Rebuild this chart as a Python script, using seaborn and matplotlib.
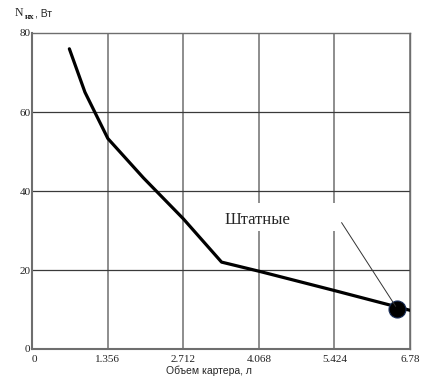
import matplotlib
matplotlib.use('Agg')
import matplotlib.pyplot as plt
import numpy as np
import pandas as pd
import seaborn as sns
from matplotlib.patches import Rectangle

# values
volume = [0.67, 0.95, 1.36, 2.0, 2.712, 3.4, 4.068, 5.424, 6.78]
power = [76.0, 65.0, 53.3, 43.3, 33.0, 22.0, 19.7, 14.8, 9.8]
std_volume = [6.55]
std_power = [10.2]
x_ticks = [0, 1.356, 2.712, 4.068, 5.424, 6.78]
y_ticks = [0, 20, 40, 60, 80]
x_label = 'Объем картера, л'
note = 'Штатные'

sns.set_style('white')
plt.rcParams['font.family'] = ['Liberation Serif', 'DejaVu Serif']

fig = plt.figure(figsize=(4.34, 3.82), dpi=100)
ax = fig.add_axes([32 / 434, 1 - 349 / 382, 378 / 434, 316 / 382])

df = pd.DataFrame({'v': volume, 'p': power})
sns.lineplot(data=df, x='v', y='p', ax=ax, color='black', lw=2.3,
             sort=False, zorder=3)
sns.scatterplot(x=std_volume, y=std_power, ax=ax, color='black', s=150,
                edgecolor='#1a2f5a', linewidth=0.8, zorder=4)

ax.set_xlim(0, 6.78)
ax.set_ylim(0, 80)
ax.set_xticks(x_ticks)
ax.set_xticklabels(['0', '1.356', '2.712', '4.068', '5.424', '6.78'])
ax.set_yticks(y_ticks)
for x in x_ticks[1:]:
    ax.axvline(x, color='#7a7a7a', lw=1.2, zorder=1)
for y in y_ticks[1:-1]:
    ax.axhline(y, color='#3a3a3a', lw=0.9, zorder=1)
for side in ['left', 'bottom']:
    ax.spines[side].set_color('#6e6e6e')
    ax.spines[side].set_linewidth(1.5)
for side in ['top', 'right']:
    ax.spines[side].set_color('#6e6e6e')
    ax.spines[side].set_linewidth(1.0)
ax.tick_params(axis='both', length=0, labelsize=8, colors='#222222')
ax.tick_params(axis='x', pad=4)
ax.tick_params(axis='y', pad=1)
for lbl in ax.get_xticklabels():
    if lbl.get_text() == '0':
        lbl.set_horizontalalignment('left')
ax.set_xlabel(x_label, family=['Liberation Sans'], fontsize=7.5)
ax.xaxis.set_label_coords(0.468, -0.052)
ax.set_ylabel('')

# white label box over the grid, then the note and its leader line
ax.add_patch(Rectangle((0.484, 0.373), 0.333, 0.089, transform=ax.transAxes,
                       facecolor='white', edgecolor='none', zorder=2))
ax.text(0.508, 0.396, note, transform=ax.transAxes, fontsize=12,
        family=['Liberation Serif'], va='baseline', zorder=5)
ax.annotate('', xy=(std_volume[0], std_power[0]), xytext=(0.819, 0.40),
            textcoords='axes fraction',
            arrowprops=dict(arrowstyle='-', color='#333333', lw=0.7,
                            shrinkA=0, shrinkB=2),
            zorder=5)

fig.text(15 / 434, 1 - 16 / 382, 'N', fontsize=8.5, family=['Liberation Serif'])
fig.text(25 / 434, 1 - 19 / 382, 'нх', fontsize=6.5, fontweight='bold',
         family=['Liberation Serif'])
fig.text(35 / 434, 1 - 16 / 382, ', Вт', fontsize=7.5, family=['Liberation Sans'])

fig.savefig('out.png', dpi=100)
